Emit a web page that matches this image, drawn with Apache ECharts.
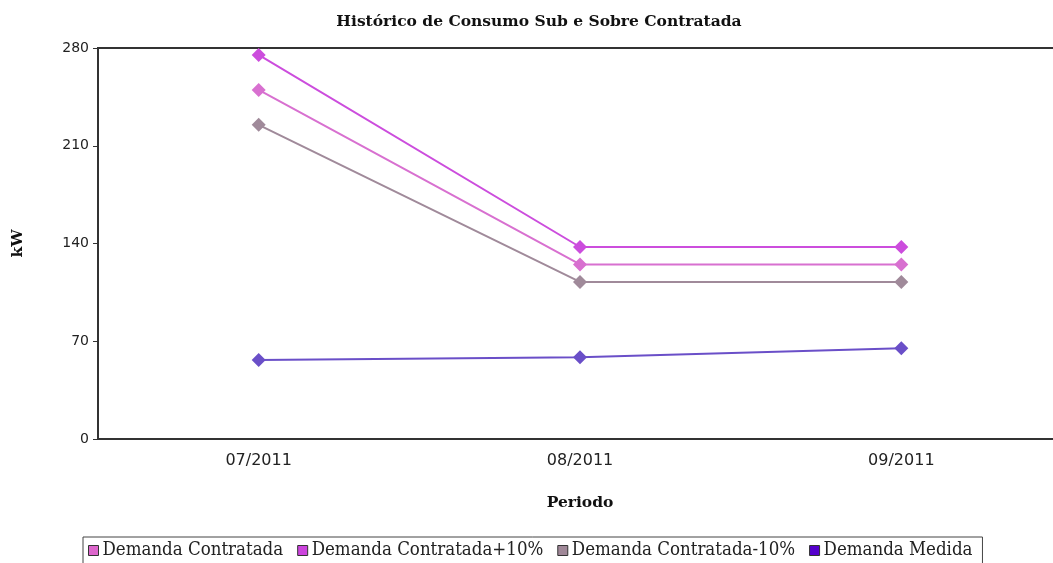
<!DOCTYPE html>
<html>
<head>
<meta charset="utf-8">
<script src="https://cdn.jsdelivr.net/npm/echarts@6/dist/echarts.min.js"></script>
<style>
  html, body { margin: 0; padding: 0; background: #fff; }
  #chart { width: 1053px; height: 563px; }
</style>
</head>
<body>
<div id="chart"></div>
<script>
// dados do gráfico
var periodos = ["07/2011", "08/2011", "09/2011"];
var contratada = [250, 125, 125];
var contratadaMais = [275, 137.5, 137.5];
var contratadaMenos = [225, 112.5, 112.5];
var medida = [56.5, 58.5, 65];
var yTicks = [0, 70, 140, 210, 280];

var chart = echarts.init(document.getElementById("chart"));

function serie(nome, dados, cor) {
  return {
    name: nome,
    type: "line",
    data: dados,
    symbol: "diamond",
    symbolSize: 14,
    lineStyle: { color: cor, width: 2 },
    itemStyle: { color: cor }
  };
}

chart.setOption({
  animation: false,
  title: {
    text: "Histórico de Consumo Sub e Sobre Contratada",
    left: 534,
    textAlign: "center",
    top: 9,
    textStyle: { fontFamily: "DejaVu Serif", fontSize: 15.5, fontWeight: "bold", color: "#111" }
  },
  grid: {
    left: 98,
    top: 48,
    width: 964,
    height: 391,
    outerBoundsMode: "none",
    containLabel: false,
    show: true,
    borderColor: "#333",
    borderWidth: 2
  },
  legend: {
    left: 83,
    top: 537,
    padding: [4, 10, 8, 5],
    itemGap: 14,
    itemWidth: 10,
    itemHeight: 10,
    icon: "rect",
    borderColor: "#444",
    borderWidth: 1,
    textStyle: { fontFamily: "DejaVu Serif Condensed", fontSize: 18.5, color: "#222", padding: [0, 0, 0, -1] },
    data: [
      { name: "Demanda Contratada", itemStyle: { color: "#dd66cc", borderColor: "#333", borderWidth: 1 } },
      { name: "Demanda Contratada+10%", itemStyle: { color: "#cc44dd", borderColor: "#333", borderWidth: 1 } },
      { name: "Demanda Contratada-10%", itemStyle: { color: "#a08898", borderColor: "#333", borderWidth: 1 } },
      { name: "Demanda Medida", itemStyle: { color: "#5500cc", borderColor: "#333", borderWidth: 1 } }
    ]
  },
  xAxis: {
    type: "category",
    data: periodos,
    boundaryGap: true,
    name: "Periodo",
    nameLocation: "middle",
    nameGap: 56,
    nameTextStyle: { fontFamily: "DejaVu Serif", fontSize: 15.5, fontWeight: "bold", color: "#111" },
    axisLine: { lineStyle: { color: "#333", width: 2 } },
    axisTick: { alignWithLabel: true, length: 6, lineStyle: { color: "#333" } },
    axisLabel: { margin: 14, fontFamily: "DejaVu Sans", fontSize: 16, color: "#222" },
    splitLine: { show: false }
  },
  yAxis: {
    type: "value",
    min: yTicks[0],
    max: yTicks[yTicks.length - 1],
    interval: 70,
    name: "kW",
    nameLocation: "middle",
    nameGap: 72,
    nameRotate: 90,
    nameTextStyle: { fontFamily: "DejaVu Serif", fontSize: 15.5, fontWeight: "bold", color: "#111" },
    axisLine: { show: true, lineStyle: { color: "#333", width: 2 } },
    axisTick: { show: true, length: 5, lineStyle: { color: "#333" } },
    axisLabel: { margin: 9, fontFamily: "DejaVu Sans", fontSize: 14, color: "#222" },
    splitLine: { show: false }
  },
  series: [
    serie("Demanda Contratada", contratada, "#d870d0"),
    serie("Demanda Contratada+10%", contratadaMais, "#cc4ddd"),
    serie("Demanda Contratada-10%", contratadaMenos, "#a08a9a"),
    serie("Demanda Medida", medida, "#6a4fc8")
  ]
});
</script>
</body>
</html>
